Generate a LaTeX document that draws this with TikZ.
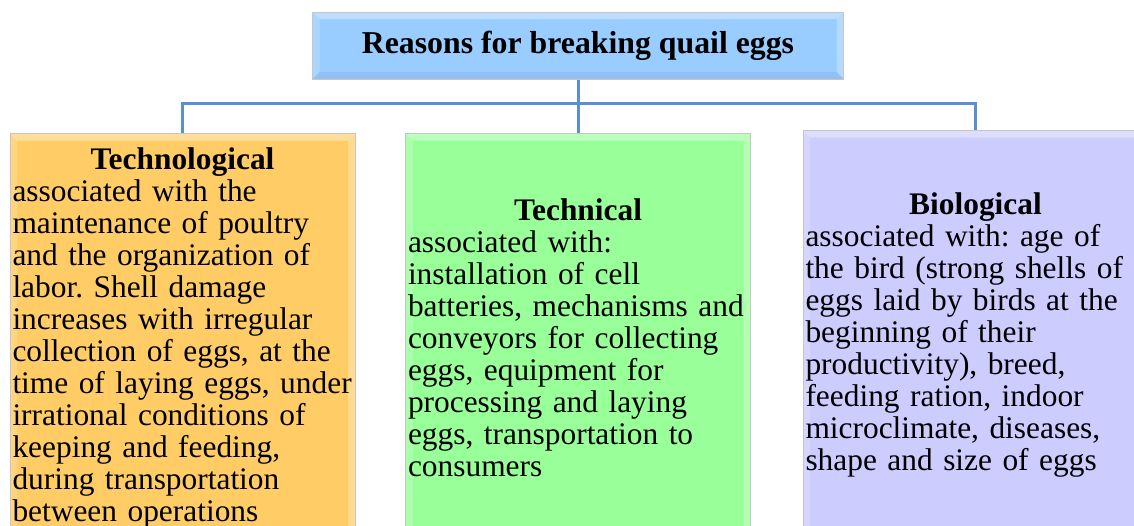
\documentclass[tikz,border=0pt]{standalone}
\usepackage{fontspec}
\setmainfont{Liberation Serif}
\frenchspacing
\hyphenpenalty=10000
\exhyphenpenalty=10000

\definecolor{skyblue}{HTML}{99CCFF}
\definecolor{techorange}{HTML}{FFCC66}
\definecolor{techgreen}{HTML}{99FF99}
\definecolor{biolilac}{HTML}{CCCCFF}
\definecolor{linkblue}{HTML}{5A8FD0}

\begin{document}
\begin{tikzpicture}[x=0.5pt, y=0.5pt,
    bevel/.style={path picture={
        \fill[white, opacity=0.35] (path picture bounding box.north west) -- (path picture bounding box.north east)
            -- ([shift={(-3.5pt,-3.5pt)}]path picture bounding box.north east) -- ([shift={(3.5pt,-3.5pt)}]path picture bounding box.north west) -- cycle;
        \fill[white, opacity=0.18] (path picture bounding box.north west) -- (path picture bounding box.south west)
            -- ([shift={(3.5pt,3.5pt)}]path picture bounding box.south west) -- ([shift={(3.5pt,-3.5pt)}]path picture bounding box.north west) -- cycle;
        \fill[white, opacity=0.28] (path picture bounding box.north east) -- (path picture bounding box.south east)
            -- ([shift={(-3.5pt,3.5pt)}]path picture bounding box.south east) -- ([shift={(-3.5pt,-3.5pt)}]path picture bounding box.north east) -- cycle;
        \fill[black, opacity=0.05] (path picture bounding box.south west) -- (path picture bounding box.south east)
            -- ([shift={(-3.5pt,3.5pt)}]path picture bounding box.south east) -- ([shift={(3.5pt,3.5pt)}]path picture bounding box.south west) -- cycle;
    }},
    titlebox/.style={bevel, draw=gray!45, line width=0.5pt, fill=skyblue, minimum width=265.5pt, minimum height=33.5pt,
        font=\fontsize{15.9}{16}\selectfont\bfseries},
    card/.style={bevel, draw=gray!45, line width=0.5pt, anchor=north, minimum width=172.5pt, minimum height=204pt,
        text width=170pt, inner xsep=1.25pt, align=left, font=\fontsize{15.7}{16}\selectfont},
    link/.style={draw=linkblue, line width=1.5pt}]

    \useasboundingbox (0,0) rectangle (1134,-525);
    \clip (0,0) rectangle (1134,-525);

    % Nodes
    \node[titlebox] (reasons) at (578,-45.5) {Reasons for breaking quail eggs};

    \node[card, fill=techorange] (technological) at (182.5,-133) {%
        \hfil\textbf{Technological}\hfil\\
        associated with the\\
        maintenance of poultry\\
        and the organization of\\
        labor. Shell damage\\
        increases with irregular\\
        collection of eggs, at the\\
        \mbox{time of laying eggs, under}\\
        irrational conditions of\\
        keeping and feeding,\\
        during transportation\\
        between operations};

    \node[card, fill=techgreen] (technical) at (578,-133) {%
        \hfil\textbf{Technical}\hfil\\
        associated with:\\
        installation of cell\\
        batteries, mechanisms and\\
        conveyors for collecting\\
        eggs, equipment for\\
        processing and laying\\
        eggs, transportation to\\
        consumers};

    \node[card, fill=biolilac] (biological) at (975.5,-130) {%
        \hfil\textbf{Biological}\hfil\\
        associated with: age of\\
        the bird (strong shells of\\
        eggs laid by birds at the\\
        beginning of their\\
        productivity), breed,\\
        feeding ration, indoor\\
        microclimate, diseases,\\
        shape and size of eggs};

    % Lines
    \draw[link] (reasons.south) -- (technical.north);
    \draw[link] (reasons.south) -- ++(0,-24) -| (technological.north);
    \draw[link] (reasons.south) -- ++(0,-24) -| (biological.north);

\end{tikzpicture}
\end{document}
